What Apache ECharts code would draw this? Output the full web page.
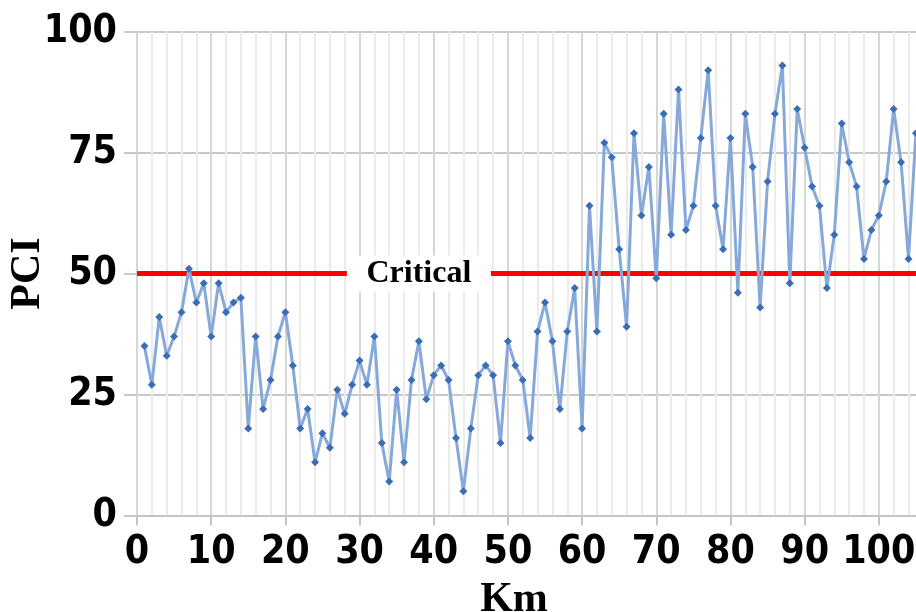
<!DOCTYPE html>
<html>
<head>
<meta charset="utf-8">
<script src="https://cdn.jsdelivr.net/npm/echarts@6/dist/echarts.min.js"></script>
<style>
  html, body { margin: 0; padding: 0; background: #fff; }
  #main { width: 916px; height: 612px; }
</style>
</head>
<body>
<div id="main"></div>
<script>
// 里程 (km)
const KM = [
  1, 2, 3, 4, 5, 6, 7, 8, 9, 10, 11, 12, 13, 14, 15, 16, 17, 18, 19, 20,
  21, 22, 23, 24, 25, 26, 27, 28, 29, 30, 31, 32, 33, 34, 35, 36, 37, 38, 39, 40,
  41, 42, 43, 44, 45, 46, 47, 48, 49, 50, 51, 52, 53, 54, 55, 56, 57, 58, 59, 60,
  61, 62, 63, 64, 65, 66, 67, 68, 69, 70, 71, 72, 73, 74, 75, 76, 77, 78, 79, 80,
  81, 82, 83, 84, 85, 86, 87, 88, 89, 90, 91, 92, 93, 94, 95, 96, 97, 98, 99, 100,
  101, 102, 103, 104, 105
]
// PCI 值
const PCI = [
  35, 27, 41, 33, 37, 42, 51, 44, 48, 37, 48, 42, 44, 45, 18, 37, 22, 28, 37, 42,
  31, 18, 22, 11, 17, 14, 26, 21, 27, 32, 27, 37, 15, 7, 26, 11, 28, 36, 24, 29,
  31, 28, 16, 5, 18, 29, 31, 29, 15, 36, 31, 28, 16, 38, 44, 36, 22, 38, 47, 18,
  64, 38, 77, 74, 55, 39, 79, 62, 72, 49, 83, 58, 88, 59, 64, 78, 92, 64, 55, 78,
  46, 83, 72, 43, 69, 83, 93, 48, 84, 76, 68, 64, 47, 58, 81, 73, 68, 53, 59, 62,
  69, 84, 73, 53, 79
]
// 临界线
const CRITICAL = 50
const CRITICAL_TEXT = 'Critical'
const CRITICAL_AT_KM = 38
const X_RANGE = [0, 110]
const Y_TICKS = [0, 25, 50, 75, 100]

const chart = echarts.init(document.getElementById('main'), null, { renderer: 'canvas' })

const numFont = "'DejaVu Sans Condensed', 'DejaVu Sans', sans-serif"
const serifFont = "'Liberation Serif', 'Times New Roman', serif"

const option = {
  backgroundColor: '#ffffff',
  animation: false,
  grid: {
    left: 137, right: -37, top: 31.5, bottom: 96.5,
    containLabel: false,
    outerBoundsMode: 'none'
  },
  xAxis: {
    type: 'value',
    min: X_RANGE[0],
    max: X_RANGE[1],
    interval: 10,
    name: 'Km',
    nameLocation: 'middle',
    nameGap: 64,
    nameMoveOverlap: false,
    nameTextStyle: {
      fontFamily: serifFont, fontWeight: 'bold', fontSize: 42, color: '#000',
      padding: [0, 62, 0, 0]
    },
    axisLine: { show: true, lineStyle: { color: '#c4c4c4', width: 2 } },
    axisTick: { show: true, length: 10, lineStyle: { color: '#c4c4c4', width: 2 } },
    axisLabel: {
      margin: 18, fontFamily: numFont, fontWeight: 'bold', fontSize: 39, color: '#000',
      showMaxLabel: false
    },
    splitLine: { show: true, lineStyle: { color: '#d6d6d6', width: 2 } },
    minorTick: { show: false, splitNumber: 5 },
    minorSplitLine: { show: true, lineStyle: { color: '#ebebeb', width: 2 } }
  },
  yAxis: {
    type: 'value',
    min: Y_TICKS[0],
    max: Y_TICKS[Y_TICKS.length - 1],
    interval: 25,
    name: 'PCI',
    nameLocation: 'middle',
    nameRotate: 90,
    nameGap: 88,
    nameMoveOverlap: false,
    nameTextStyle: { fontFamily: serifFont, fontWeight: 'bold', fontSize: 42, color: '#000' },
    axisLine: { show: true, lineStyle: { color: '#d6d6d6', width: 2 } },
    axisTick: { show: true, length: 13, lineStyle: { color: '#c8c8c8', width: 2 } },
    axisLabel: { margin: 20, fontFamily: numFont, fontWeight: 'bold', fontSize: 39, color: '#000' },
    splitLine: { show: true, lineStyle: { color: '#c8c8c8', width: 2 } }
  },
  series: [
    {
      // 红色临界线
      type: 'line',
      data: [[X_RANGE[0], CRITICAL], [X_RANGE[1], CRITICAL]],
      symbol: 'none',
      silent: true,
      z: 1,
      lineStyle: { color: '#ff0000', width: 5 }
    },
    {
      // 标签
      type: 'scatter',
      data: [[CRITICAL_AT_KM, CRITICAL]],
      symbol: 'rect',
      symbolSize: [144, 36],
      silent: true,
      z: 2,
      itemStyle: { color: '#ffffff', opacity: 1 },
      label: {
        show: true,
        position: 'inside',
        formatter: CRITICAL_TEXT,
        fontFamily: serifFont,
        fontWeight: 'bold',
        fontSize: 32,
        color: '#000'
      }
    },
    {
      type: 'line',
      data: KM.map((k, i) => [k, PCI[i]]),
      z: 3,
      symbol: 'diamond',
      symbolSize: 8,
      showSymbol: true,
      itemStyle: { color: '#3a6db5' },
      lineStyle: { color: '#86a9da', width: 3 }
    }
  ]
}

chart.setOption(option)
</script>
</body>
</html>
